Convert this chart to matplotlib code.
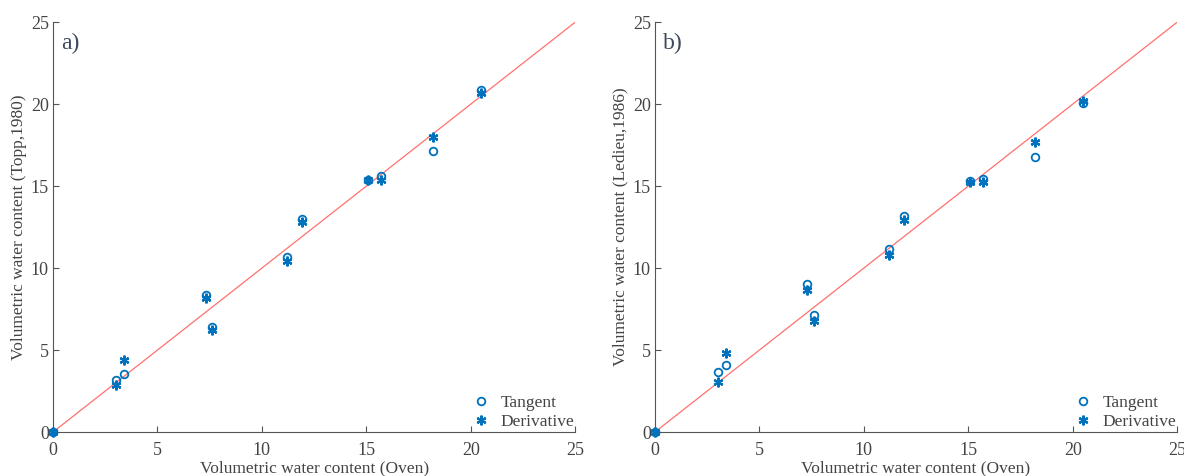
import numpy as np
import matplotlib
matplotlib.use('Agg')
import matplotlib.pyplot as plt

# =========================
# DATA
# =========================
oven = [0, 3.0, 3.4, 7.3, 7.6, 11.2, 11.9, 15.1, 15.7, 18.2, 20.5]

topp_tangent = [0, 3.2, 3.55, 8.35, 6.4, 10.65, 13.0, 15.4, 15.6, 17.15, 20.85]
topp_derivative = [0, 2.85, 4.4, 8.15, 6.25, 10.45, 12.8, 15.4, 15.4, 18.0, 20.65]

ledieu_tangent = [0, 3.65, 4.1, 9.05, 7.15, 11.15, 13.2, 15.3, 15.45, 16.8, 20.1]
ledieu_derivative = [0, 3.05, 4.8, 8.65, 6.75, 10.8, 12.95, 15.25, 15.25, 17.7, 20.2]

panels = [
    ("a)", "Volumetric water content (Topp,1980)", topp_tangent, topp_derivative),
    ("b)", "Volumetric water content (Ledieu,1986)", ledieu_tangent, ledieu_derivative),
]
ticks = [0, 5, 10, 15, 20, 25]

# =========================
# STYLE
# =========================
plt.rcParams['font.family'] = ['Liberation Serif', 'DejaVu Serif']
blue = '#0072BD'
red = '#FF7070'
gray = '#444444'
asterisk = (6, 2, 0)

fig = plt.figure(figsize=(11.84, 4.76), dpi=100)
positions = [[0.0448, 0.0924, 0.441, 0.861], [0.5532, 0.0924, 0.441, 0.861]]

for pos, (tag, ylabel, tang, deriv) in zip(positions, panels):
    ax = fig.add_axes(pos)
    ax.plot([0, 25], [0, 25], color=red, lw=0.9, zorder=1)
    ax.plot(oven, tang, linestyle='none', marker='o', mfc='none', mec=blue,
            mew=1.3, ms=5.5, label='Tangent', zorder=3, clip_on=False)
    ax.plot(oven, deriv, linestyle='none', marker=asterisk, color=blue,
            mew=1.6, ms=7, label='Derivative', zorder=3, clip_on=False)

    ax.set_xlim(0, 25)
    ax.set_ylim(0, 25)
    ax.set_xticks(ticks)
    ax.set_yticks(ticks)
    for s in ['top', 'right']:
        ax.spines[s].set_visible(False)
    for s in ['left', 'bottom']:
        ax.spines[s].set_color('#555555')
        ax.spines[s].set_linewidth(0.8)
    ax.tick_params(direction='in', length=4, width=0.8, color='#555555',
                   labelcolor=gray, labelsize=13, pad=3)
    ax.tick_params(axis='x', pad=7)
    ax.set_xlabel("Volumetric water content (Oven)", fontsize=12.5, color=gray, labelpad=1)
    ax.set_ylabel(ylabel, fontsize=12.5, color=gray, labelpad=3)
    ax.text(0.015, 0.975, tag, transform=ax.transAxes, fontsize=17,
            color='#3a4a5a', va='top', ha='left')
    ax.legend(loc='lower right', bbox_to_anchor=(1.012, -0.012), frameon=False,
              fontsize=12.5, handletextpad=0.4, borderaxespad=0.0,
              labelspacing=0.15, handlelength=1.5, labelcolor=gray)
    for sp in ax.spines.values():
        sp.set_zorder(0)

fig.savefig('out.png', dpi=100)
